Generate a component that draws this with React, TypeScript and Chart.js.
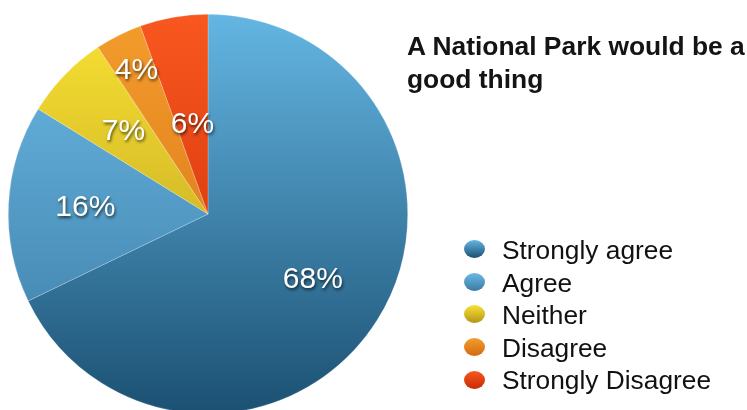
import React, { useEffect, useRef } from "react";
import { Chart, registerables } from "chart.js";

Chart.register(...registerables);

const categories = ["Strongly agree", "Agree", "Neither", "Disagree", "Strongly Disagree"];
const values = [67.9, 16.0, 6.9, 3.8, 5.5];
const topColors = ["#64b6e3", "#6bbae6", "#f9e234", "#f39d2c", "#f8571f"];
const bottomColors = ["#1b5072", "#3a7aa3", "#b3951a", "#d46a12", "#c82a04"];
const labelRadius = [0.62, 0.615, 0.59, 0.8, 0.455];
const titleLines = ["A National Park would be a", "good thing"];

const FONT = '"Liberation Sans", Arial, Helvetica, sans-serif';

const labelPlugin = {
  id: "sliceLabels",
  afterDatasetsDraw(chart: any) {
    const ctx = chart.ctx;
    const meta = chart.getDatasetMeta(0);
    const data = chart.data.datasets[0].data as number[];
    ctx.save();
    ctx.font = `30px ${FONT}`;
    ctx.textAlign = "center";
    ctx.textBaseline = "middle";
    ctx.fillStyle = "#ffffff";
    ctx.shadowColor = "rgba(0,0,0,0.65)";
    ctx.shadowOffsetX = 1;
    ctx.shadowOffsetY = 2;
    ctx.shadowBlur = 3;
    meta.data.forEach((arc: any, i: number) => {
      const p = arc.getProps(["x", "y", "startAngle", "endAngle", "outerRadius"], true);
      const mid = (p.startAngle + p.endAngle) / 2;
      const r = p.outerRadius * labelRadius[i];
      const x = p.x + Math.cos(mid) * r;
      const y = p.y + Math.sin(mid) * r;
      ctx.fillText(`${Math.round(data[i])}%`, x, y);
    });
    ctx.restore();
  },
};

export default function App() {
  const canvasRef = useRef<HTMLCanvasElement | null>(null);

  useEffect(() => {
    if (!canvasRef.current) return;
    const chart = new Chart(canvasRef.current, {
      type: "pie",
      data: {
        labels: categories,
        datasets: [
          {
            data: values,
            backgroundColor: (c: any) => {
              const ch = c.chart;
              const area = ch.chartArea;
              const i = c.dataIndex ?? 0;
              if (!area) return topColors[i];
              const g = ch.ctx.createLinearGradient(0, area.top, 0, area.bottom);
              g.addColorStop(0, topColors[i]);
              g.addColorStop(1, bottomColors[i]);
              return g;
            },
            borderColor: "rgba(255,255,255,0.35)",
            borderWidth: 0.6,
          },
        ],
      },
      options: {
        responsive: false,
        animation: false,
        layout: { padding: { left: 8, top: 14, right: 339, bottom: 16 } },
        plugins: {
          legend: { display: false },
          title: { display: false },
          tooltip: { enabled: false },
        },
      },
      plugins: [labelPlugin],
    });
    return () => chart.destroy();
  }, []);

  return (
    <div
      style={{
        position: "fixed",
        left: 0,
        top: 0,
        width: 747,
        height: 410,
        overflow: "hidden",
        background: "#ffffff",
        fontFamily: FONT,
      }}
    >
      <canvas ref={canvasRef} width={747} height={430} style={{ position: "absolute", left: 0, top: 0 }} />
      <div
        style={{
          position: "absolute",
          left: 407,
          top: 30,
          fontSize: 26.4,
          lineHeight: "33px",
          fontWeight: "bold",
          color: "#141414",
          whiteSpace: "nowrap",
        }}
      >
        {titleLines.map((t, i) => (
          <div key={i}>{t}</div>
        ))}
      </div>
      <div style={{ position: "absolute", left: 464, top: 234 }}>
        {categories.map((c, i) => (
          <div
            key={c}
            style={{
              display: "flex",
              alignItems: "center",
              height: 32.6,
              fontSize: 26.3,
              lineHeight: "32.6px",
              color: "#111111",
              whiteSpace: "nowrap",
            }}
          >
            <span
              style={{
                display: "inline-block",
                width: 21,
                height: 18,
                borderRadius: "50%",
                background: `linear-gradient(${topColors[i]}, ${bottomColors[i]})`,
                marginRight: 17,
                marginTop: -2,
              }}
            />
            <span>{c}</span>
          </div>
        ))}
      </div>
    </div>
  );
}
